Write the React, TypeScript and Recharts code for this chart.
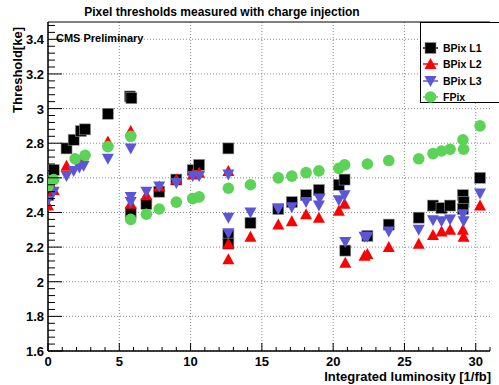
import { ScatterChart, Scatter, XAxis, YAxis, CartesianGrid, ReferenceLine } from "recharts";

// BPix L1 - black squares
const l1Lumi = [0.0, 0.4, 1.3, 1.8, 2.3, 2.6, 4.2, 5.75, 5.85, 5.8, 6.9, 7.8, 9.0, 10.15, 10.6, 12.65, 12.65, 12.65, 14.2, 16.15, 17.1, 18.1, 19.0, 20.4, 20.8, 20.85, 22.4, 23.9, 26.0, 27.0, 27.6, 28.2, 29.1, 29.15, 29.1, 30.3];
const l1Thr = [2.5, 2.645, 2.77, 2.82, 2.87, 2.88, 2.97, 3.07, 3.06, 2.4, 2.45, 2.52, 2.59, 2.645, 2.675, 2.77, 2.27, 2.22, 2.34, 2.42, 2.46, 2.5, 2.53, 2.56, 2.59, 2.18, 2.265, 2.33, 2.37, 2.44, 2.425, 2.44, 2.5, 2.46, 2.42, 2.6];

// BPix L2 - red triangles
const l2Lumi = [0.0, 0.4, 1.3, 2.3, 4.2, 5.8, 5.8, 6.9, 7.8, 9.0, 10.15, 10.6, 12.65, 12.65, 12.65, 14.2, 16.15, 17.1, 18.1, 19.0, 20.4, 20.8, 20.85, 22.2, 22.4, 23.9, 26.0, 27.0, 27.6, 28.2, 29.1, 29.15, 30.3];
const l2Thr = [2.44, 2.53, 2.67, 2.7, 2.81, 2.87, 2.45, 2.5, 2.55, 2.59, 2.62, 2.63, 2.64, 2.22, 2.13, 2.26, 2.33, 2.35, 2.39, 2.37, 2.41, 2.45, 2.11, 2.15, 2.16, 2.2, 2.22, 2.27, 2.29, 2.3, 2.3, 2.26, 2.44];

// BPix L3 - blue inverted triangles
const l3Lumi = [0.0, 0.4, 1.3, 1.8, 2.2, 2.5, 4.2, 5.8, 5.8, 5.8, 6.9, 7.8, 9.0, 10.15, 10.6, 12.65, 12.65, 12.65, 14.2, 16.15, 17.1, 18.1, 19.0, 19.05, 20.4, 20.8, 20.85, 22.2, 22.4, 23.9, 26.0, 27.0, 27.6, 28.2, 29.1, 29.15, 30.3];
const l3Thr = [2.47, 2.52, 2.61, 2.64, 2.66, 2.67, 2.71, 2.77, 2.49, 2.46, 2.52, 2.55, 2.57, 2.61, 2.61, 2.62, 2.37, 2.28, 2.4, 2.42, 2.43, 2.46, 2.44, 2.48, 2.47, 2.5, 2.23, 2.26, 2.26, 2.29, 2.3, 2.355, 2.35, 2.36, 2.39, 2.35, 2.51];

// FPix - green circles
const fpLumi = [0.0, 0.4, 1.9, 2.6, 4.2, 5.8, 5.8, 6.9, 7.8, 9.0, 10.15, 10.6, 12.65, 14.2, 16.15, 17.1, 18.1, 19.0, 20.4, 20.8, 22.4, 23.9, 26.0, 27.0, 27.6, 28.2, 29.1, 29.15, 30.3];
const fpThr = [2.55, 2.59, 2.71, 2.73, 2.78, 2.84, 2.36, 2.39, 2.42, 2.46, 2.48, 2.49, 2.54, 2.56, 2.6, 2.61, 2.63, 2.64, 2.655, 2.675, 2.68, 2.7, 2.71, 2.74, 2.755, 2.765, 2.82, 2.765, 2.9];

const xMajor = [0, 5, 10, 15, 20, 25, 30];
const xLabels = ["0", "5", "10", "15", "20", "25", "30"];
const yMajor = [1.6, 1.8, 2.0, 2.2, 2.4, 2.6, 2.8, 3.0, 3.2, 3.4];
const yLabels = ["1.6", "1.8", "2", "2.2", "2.4", "2.6", "2.8", "3", "3.2", "3.4"];

const xTicks: number[] = [];
for (let i = 0; i <= 31; i++) xTicks.push(i);
const yTicks: number[] = [];
for (let i = 0; i <= 47; i++) yTicks.push(Math.round((1.6 + i * 0.04) * 100) / 100);

const zip = (xs: number[], ys: number[]) => xs.map((x, i) => ({ x, y: ys[i] }));

const BLUE = "#5b56d8";
const GREEN = "#5bd356";
const FONT = "'Liberation Sans', Arial, sans-serif";

// plot frame in page pixels
const LEFT = 48;
const BOTTOM = 351;

const Square = (p: any) => <rect x={p.cx - 5.5} y={p.cy - 5.5} width={11} height={11} fill="#000" stroke="#999" strokeWidth={0.6} />;
const TriUp = (p: any) => <polygon points={`${p.cx - 6},${p.cy + 5} ${p.cx + 6},${p.cy + 5} ${p.cx},${p.cy - 6}`} fill="#ff0000" />;
const TriDown = (p: any) => <polygon points={`${p.cx - 6},${p.cy - 5} ${p.cx + 6},${p.cy - 5} ${p.cx},${p.cy + 6}`} fill={BLUE} />;
const Dot = (p: any) => <circle cx={p.cx} cy={p.cy} r={5.8} fill={GREEN} />;

const YTick = (props: any) => {
  const { y, payload } = props;
  const idx = yMajor.findIndex((m) => Math.abs(m - payload.value) < 1e-6);
  return (
    <g>
      <line x1={LEFT} x2={LEFT + (idx >= 0 ? 14 : 7)} y1={y} y2={y} stroke="#000" />
      {idx >= 0 && (
        <text x={44} y={y + 5} textAnchor="end" fontFamily={FONT} fontWeight="bold" fontSize={13} fill="#000">
          {yLabels[idx]}
        </text>
      )}
    </g>
  );
};

const XTick = (props: any) => {
  const { x, payload } = props;
  const idx = xMajor.indexOf(payload.value);
  return (
    <g>
      <line x1={x} x2={x} y1={BOTTOM} y2={BOTTOM - (idx >= 0 ? 8 : 4)} stroke="#000" />
      {idx >= 0 && (
        <text x={x} y={366} textAnchor="middle" fontFamily={FONT} fontWeight="bold" fontSize={13} fill="#000">
          {xLabels[idx]}
        </text>
      )}
    </g>
  );
};

const legendItems = [
  { name: "BPix L1", shape: "sq" },
  { name: "BPix L2", shape: "up" },
  { name: "BPix L3", shape: "down" },
  { name: "FPix", shape: "dot" },
];

const LegendMarker = ({ shape }: { shape: string }) => (
  <svg width={16} height={14} style={{ display: "block" }}>
    <line x1={0} x2={15} y1={7} y2={7} stroke={shape === "sq" ? "#000" : shape === "up" ? "#ff0000" : shape === "down" ? BLUE : GREEN} strokeWidth={1.5} />
    {shape === "sq" && <Square cx={7.5} cy={7} />}
    {shape === "up" && <TriUp cx={7.5} cy={7} />}
    {shape === "down" && <TriDown cx={7.5} cy={7} />}
    {shape === "dot" && <Dot cx={7.5} cy={7} />}
  </svg>
);

const App = () => {
  return (
    <div style={{ position: "absolute", left: 0, top: 0, width: 499, height: 385, background: "#fff", overflow: "hidden" }}>
      <ScatterChart width={499} height={385} margin={{ top: 22, right: 9, bottom: 0, left: 0 }}>
        <CartesianGrid horizontal vertical horizontalValues={yMajor} verticalValues={xMajor} stroke="#888" strokeDasharray="1 2" />
        <XAxis
          type="number"
          dataKey="x"
          domain={[0, 31]}
          ticks={xTicks}
          interval={0}
          height={34}
          tick={<XTick />}
          tickLine={false}
          axisLine={{ stroke: "#000", strokeWidth: 1.5 }}
          allowDataOverflow
        />
        <YAxis
          type="number"
          dataKey="y"
          domain={[1.6, 3.5]}
          ticks={yTicks}
          interval={0}
          width={48}
          tick={<YTick />}
          tickLine={false}
          axisLine={{ stroke: "#000", strokeWidth: 1.5 }}
          allowDataOverflow
        />
        <ReferenceLine y={3.5} stroke="#000" strokeWidth={1} />
        <Scatter data={zip(l1Lumi, l1Thr)} shape={Square} isAnimationActive={false} />
        <Scatter data={zip(l2Lumi, l2Thr)} shape={TriUp} isAnimationActive={false} />
        <Scatter data={zip(l3Lumi, l3Thr)} shape={TriDown} isAnimationActive={false} />
        <Scatter data={zip(fpLumi, fpThr)} shape={Dot} isAnimationActive={false} />
      </ScatterChart>

      <div style={{ position: "absolute", left: 0, width: 444, top: 5, textAlign: "center", fontFamily: FONT, fontWeight: "bold", fontSize: 12 }}>
        Pixel thresholds measured with charge injection
      </div>
      <div style={{ position: "absolute", left: 56, top: 32, fontFamily: FONT, fontWeight: "bold", fontSize: 11 }}>
        CMS Preliminary
      </div>
      <div
        style={{
          position: "absolute",
          left: 10,
          top: 27,
          transformOrigin: "0 0",
          transform: "rotate(-90deg) translateX(-100%)",
          fontFamily: FONT,
          fontWeight: "bold",
          fontSize: 13,
          whiteSpace: "nowrap",
        }}
      >
        Threshold[ke]
      </div>
      <div style={{ position: "absolute", right: 8, top: 369, fontFamily: FONT, fontWeight: "bold", fontSize: 13, whiteSpace: "nowrap" }}>
        Integrated luminosity [1/fb]
      </div>

      <div
        style={{
          position: "absolute",
          left: 420,
          top: 22,
          width: 90,
          height: 81,
          background: "#fff",
          border: "1.5px solid #000",
          boxSizing: "border-box",
          paddingTop: 17,
        }}
      >
        {legendItems.map((it) => (
          <div key={it.name} style={{ display: "flex", alignItems: "center", height: 16.3, paddingLeft: 2 }}>
            <LegendMarker shape={it.shape} />
            <span style={{ marginLeft: 4, fontFamily: FONT, fontWeight: "bold", fontSize: 10.5 }}>{it.name}</span>
          </div>
        ))}
      </div>
    </div>
  );
};

export default App;
